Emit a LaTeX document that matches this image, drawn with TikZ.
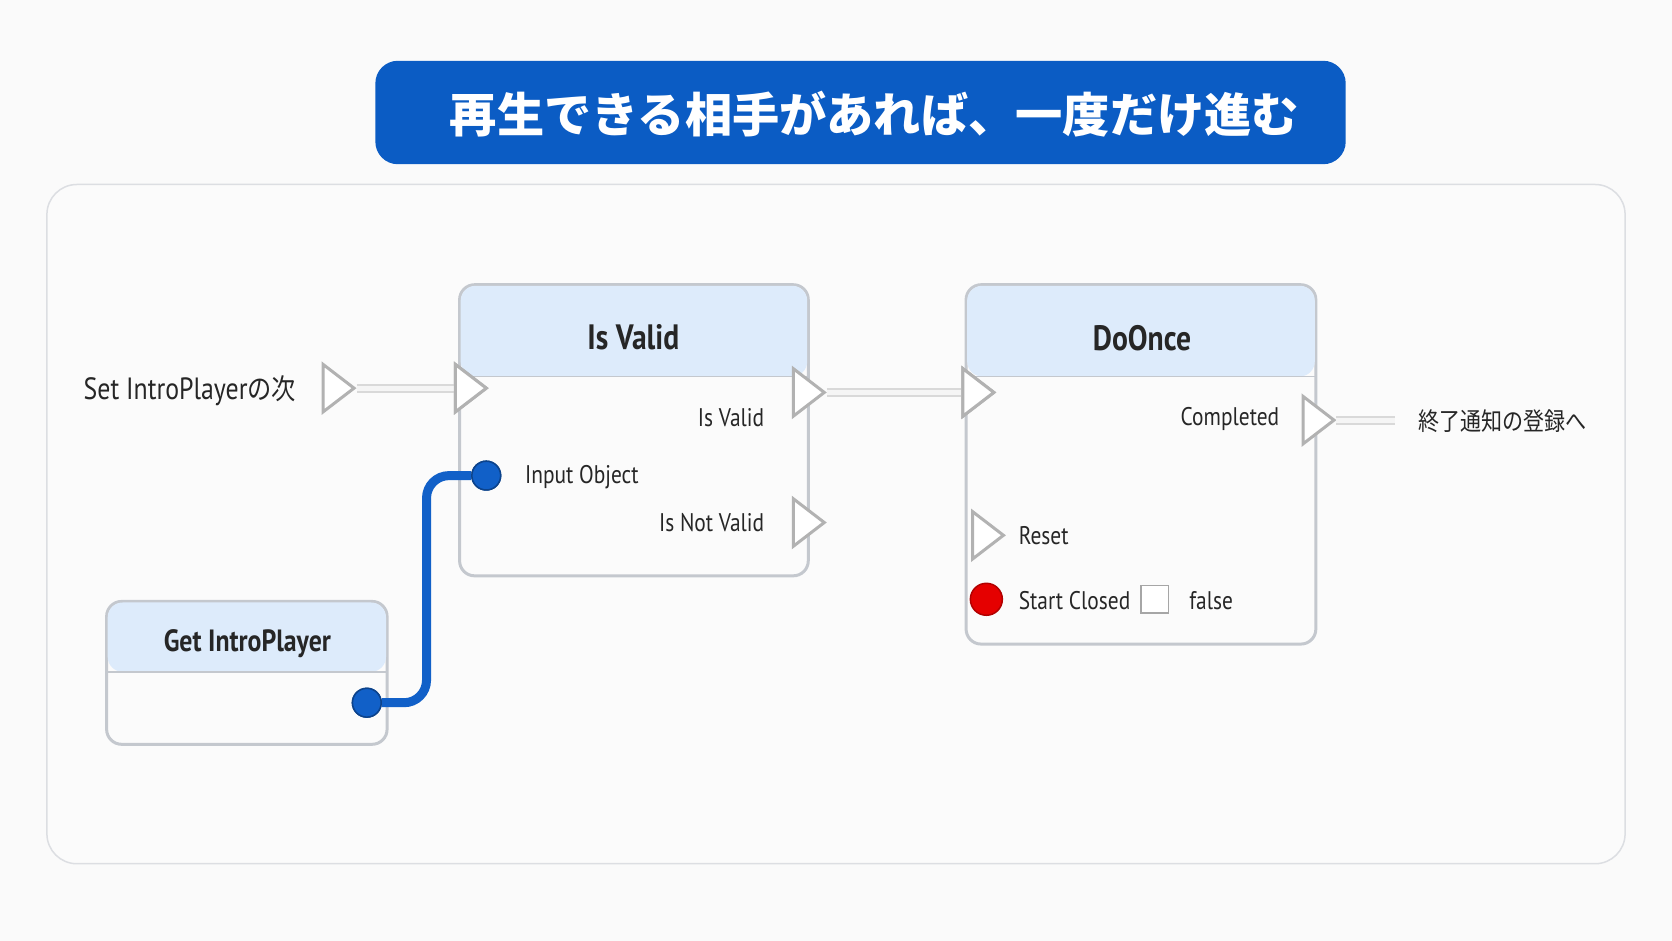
\documentclass[tikz,border=0pt]{standalone}
\usepackage{fontspec}
\setmainfont{PT Sans}[FakeStretch=0.84]
\newfontfamily\cjk{Noto Sans CJK JP}
\newfontfamily\cjkschmal{Noto Sans CJK JP}[FakeStretch=0.85]
\usetikzlibrary{positioning, shapes.geometric}
\definecolor{titelblau}{HTML}{0B5CC4}
\definecolor{kopf}{HTML}{DDEBFB}
\definecolor{rand}{HTML}{C4C8CE}
\definecolor{draht}{HTML}{1160C8}
\tikzset{knoten/.style={draw=rand, fill=white!97!gray, rounded corners=4pt, thick},
	kopfzeile/.style={fill=kopf, rounded corners=4pt},
	exec/.style={isosceles triangle, isosceles triangle apex angle=75, draw=gray!60, fill=white, thick, minimum size=2.9mm, inner sep=0},
	daten/.style={circle, fill=draht, draw=draht!70!black, minimum size=2.7mm, inner sep=0},
	titel/.style={font=\fontsize{9.4}{11}\selectfont\bfseries, text=black!85},
	pinlabel/.style={font=\fontsize{6.8}{8}\selectfont, text=black!85},
	ader/.style={line width=2.4pt, draw=gray!30},
	aderinnen/.style={line width=1.4pt, draw=white!92!gray} }

\begin{document}
\begin{tikzpicture}[x=0.1mm, y=-0.1mm]
	\useasboundingbox[fill=white!96!gray] (0,0) rectangle (1568,882);
	% Rahmen und Titel
	\draw[rand!60, fill=white!97!gray, rounded corners=8pt] (44,173) rectangle (1524,810);
	\fill[titelblau, rounded corners=6pt] (352,57) rectangle (1262,154);
	\node[text=white, font=\cjk\fontsize{12.6}{15}\selectfont\bfseries] (titel) at (820,107) {再生できる相手があれば、一度だけ進む};
	% Is Valid
	\draw[knoten] (431,267) rectangle (758,540);
	\fill[kopfzeile] (432,268) rectangle (757,353);
	\draw[rand] (432,353) -- (757,353);
	\node[titel] (iv) at (594,316) {Is Valid};
	% DoOnce
	\draw[knoten] (906,267) rectangle (1234,604);
	\fill[kopfzeile] (907,268) rectangle (1233,353);
	\draw[rand] (907,353) -- (1233,353);
	\node[titel] (do) at (1071,317) {DoOnce};
	% Get IntroPlayer
	\draw[knoten] (100,564) rectangle (363,698);
	\fill[kopfzeile] (101,565) rectangle (362,630);
	\draw[rand] (101,630) -- (362,630);
	\node[titel, font=\fontsize{8.2}{10}\selectfont\bfseries] (gip) at (232,604) {Get IntroPlayer};
	% Pins
	\node[exec] (setaus) at (314,364) {};
	\node[exec] (ivein) at (438,364) {};
	\node[exec] (ivaus) at (755,368) {};
	\node[exec] (ivnicht) at (755,490) {};
	\node[exec] (doein) at (914,368) {};
	\node[exec] (reset) at (923,502) {};
	\node[exec] (fertig) at (1233,394) {};
	\coordinate (frei) at (1308,394);
	% Verbindungen
	\foreach \a/\b in {setaus/ivein, ivaus/doein, fertig/frei} {
		\draw[ader] (\a.east) -- (\b.west);
		\draw[aderinnen] (\a.east) -- (\b.west);
	}
	\node[exec] at (ivein) {};
	\node[exec] at (doein) {};
	\node[daten] (objekt) at (456,446) {};
	\node[daten] (spieler) at (344,659) {};
	\node[daten, fill=red!90!black, draw=red!70!black, minimum size=3mm] (start) at (925,562) {};
	\node[draw=gray!70, fill=white, minimum size=2.6mm, inner sep=0] (kasten) at (1083,562) {};
	% Beschriftungen
	\node[pinlabel, font=\fontsize{8.2}{10}\selectfont, anchor=east] at (290,366) {Set IntroPlayer\cjkschmal\fontsize{7.6}{9}\selectfont の次};
	\node[pinlabel, anchor=east] at (729,392) {Is Valid};
	\node[pinlabel, anchor=east] at (729,490) {Is Not Valid};
	\node[pinlabel, anchor=west] at (480,447) {Input Object};
	\node[pinlabel, anchor=east] at (1212,393) {Completed};
	\node[pinlabel, anchor=west] at (943,502) {Reset};
	\node[pinlabel, anchor=west] at (943,563) {Start Closed};
	\node[pinlabel, anchor=west] at (1103,563) {false};
	\node[pinlabel, font=\cjkschmal\fontsize{6.6}{8}\selectfont, anchor=west] at (1318,395) {終了通知の登録へ};
	\draw[draht, line width=2.4pt, rounded corners=6pt] (spieler) -- (400,659) -- (400,446) -- (objekt);
	\node[daten] at (objekt) {};
	\node[daten] at (spieler) {};
\end{tikzpicture}
\end{document}
